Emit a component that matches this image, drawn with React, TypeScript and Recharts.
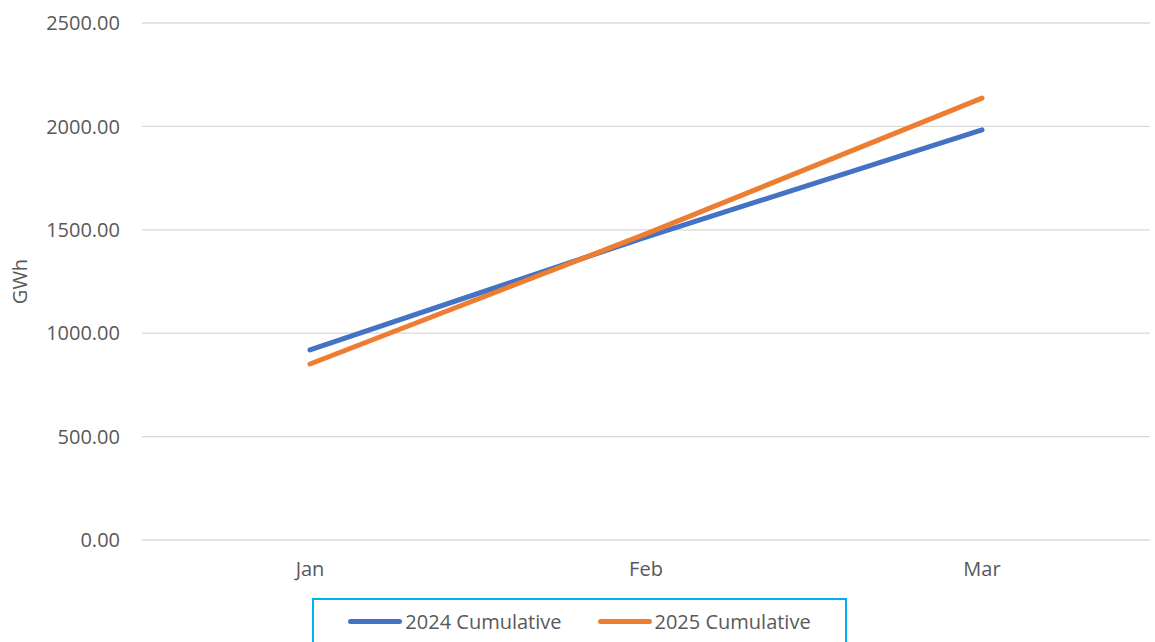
import { LineChart, Line, XAxis, YAxis, CartesianGrid } from 'recharts'

const months = ['Jan', 'Feb', 'Mar']
const cumulative2024 = [919, 1465, 1983]
const cumulative2025 = [851, 1480, 2137]
const yTicks = [0, 500, 1000, 1500, 2000, 2500]

const SERIES = [
  { key: 'c2024', name: '2024 Cumulative', color: '#4472C4' },
  { key: 'c2025', name: '2025 Cumulative', color: '#ED7D31' },
]

const FONT = '"Open Sans", "Noto Sans", sans-serif'
const TEXT_COLOR = '#595959'

const data = months.map((m, i) => ({
  month: m,
  c2024: cumulative2024[i],
  c2025: cumulative2025[i],
}))

export default function App() {
  return (
    <div style={{ position: 'relative', width: 1155, height: 642, overflow: 'hidden', fontFamily: FONT }}>
      <style>{'body{margin:0;overflow:hidden}'}</style>
      <LineChart width={1155} height={642} data={data} margin={{ top: 23, right: 5, left: 0, bottom: 72 }}>
        <CartesianGrid vertical={false} stroke="#D9D9D9" strokeWidth={1.3} />
        <XAxis
          dataKey="month"
          scale="band"
          axisLine={false}
          tickLine={false}
          height={30}
          tickMargin={16}
          tick={{ fill: TEXT_COLOR, fontSize: 20, fontFamily: FONT }}
        />
        <YAxis
          domain={[0, 2500]}
          ticks={yTicks}
          width={142}
          axisLine={false}
          tickLine={false}
          tickMargin={16}
          tickFormatter={v => Number(v).toFixed(2)}
          tick={{ fill: TEXT_COLOR, fontSize: 20, fontFamily: FONT }}
          label={{
            value: 'GWh',
            angle: -90,
            position: 'insideLeft',
            offset: 20,
            style: { fill: TEXT_COLOR, fontSize: 20, fontFamily: FONT, textAnchor: 'middle' },
          }}
        />
        {SERIES.map(s => (
          <Line
            key={s.key}
            type="linear"
            dataKey={s.key}
            name={s.name}
            stroke={s.color}
            strokeWidth={5}
            strokeLinecap="round"
            dot={false}
            activeDot={false}
            isAnimationActive={false}
          />
        ))}
      </LineChart>
      <div
        style={{
          position: 'absolute',
          left: 312,
          top: 598,
          width: 535,
          height: 50,
          boxSizing: 'border-box',
          border: '2px solid #00B0F0',
          display: 'flex',
          justifyContent: 'center',
          alignItems: 'flex-start',
          paddingTop: 8,
          gap: 36,
        }}
      >
        {SERIES.map(s => (
          <div key={s.key} style={{ display: 'flex', alignItems: 'center', color: TEXT_COLOR, fontSize: 20 }}>
            <span
              style={{
                display: 'inline-block',
                width: 54,
                height: 5,
                borderRadius: 3,
                background: s.color,
                marginRight: 3,
              }}
            />
            {s.name}
          </div>
        ))}
      </div>
    </div>
  )
}
